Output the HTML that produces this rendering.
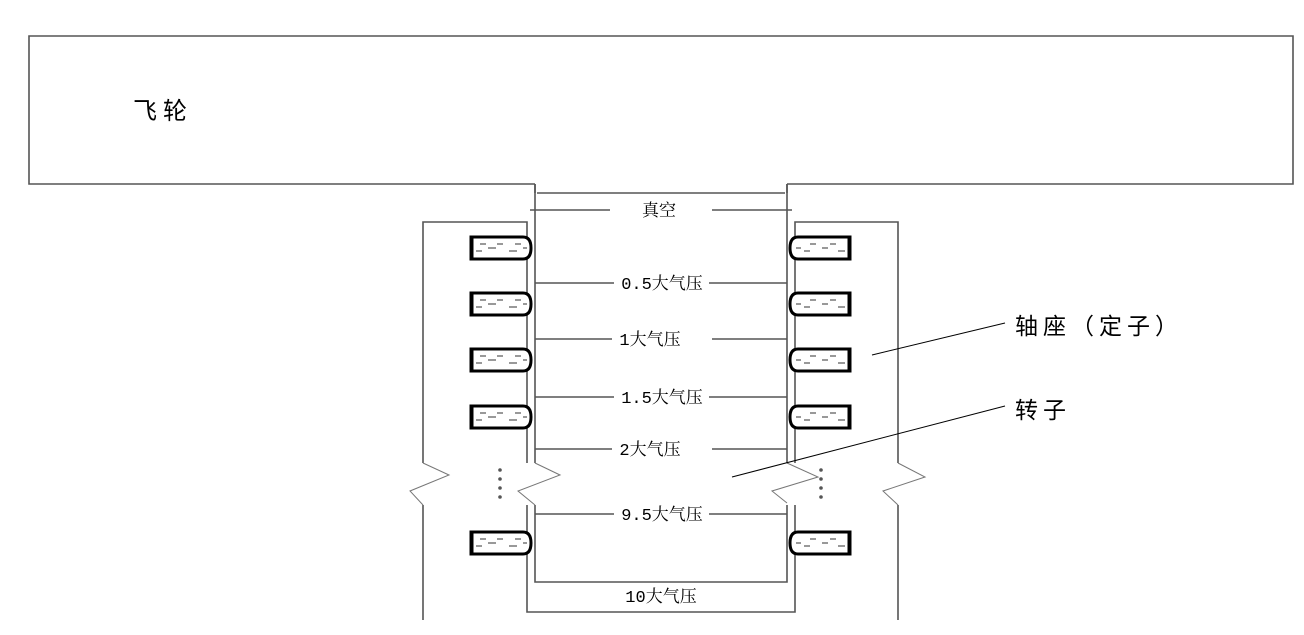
<!DOCTYPE html>
<html><head><meta charset="utf-8"><style>
html,body{margin:0;padding:0;background:#fff;}
svg{display:block}
text{font-family:"Liberation Mono","Noto Serif CJK SC",monospace;fill:#000}
</style></head><body>
<svg width="1304" height="635" viewBox="0 0 1304 635" xmlns="http://www.w3.org/2000/svg">
<defs>
<g id="padL">
<path d="M0,0 H52 Q60,0 60,11 Q60,22 52,22 H0 Z" fill="#fff" stroke="#000" stroke-width="3"/>
<line x1="1" y1="1" x2="1" y2="21" stroke="#000" stroke-width="3"/>
<g stroke="#777" stroke-width="1.5">
<line x1="9" y1="7" x2="15" y2="7"/><line x1="26" y1="7" x2="32" y2="7"/><line x1="44" y1="7" x2="50" y2="7"/>
<line x1="5" y1="14" x2="11" y2="14"/><line x1="17" y1="11" x2="25" y2="11"/><line x1="38" y1="14" x2="46" y2="14"/><line x1="52" y1="11" x2="56" y2="11"/>
</g>
</g>
<g id="padR">
<path d="M60,0 H8 Q0,0 0,11 Q0,22 8,22 H60 Z" fill="#fff" stroke="#000" stroke-width="3"/>
<line x1="59" y1="1" x2="59" y2="21" stroke="#000" stroke-width="3"/>
<g stroke="#777" stroke-width="1.5">
<line x1="6" y1="11" x2="11" y2="11"/><line x1="20" y1="7" x2="26" y2="7"/><line x1="40" y1="7" x2="46" y2="7"/>
<line x1="14" y1="14" x2="20" y2="14"/><line x1="32" y1="11" x2="38" y2="11"/><line x1="48" y1="14" x2="55" y2="14"/>
</g>
</g>
</defs>
<g fill="none" stroke="#555" stroke-width="1.6">
<path d="M535,184 H29 V36 H1293 V184 H787"/>
<line x1="535" y1="184" x2="535" y2="193"/><line x1="787" y1="184" x2="787" y2="193"/>
<line x1="537" y1="193" x2="785" y2="193"/>
<path d="M535,184 V463"/><path d="M535,505 V582 H787 V505"/><path d="M787,184 V463"/>
<path d="M423,620 V505 M423,463 V222 H527 V463"/>
<path d="M527,505 V612 H795 V505"/>
<path d="M898,620 V505 M898,463 V222 H795 V463"/>
</g>
<g fill="none" stroke="#777" stroke-width="1">
<polyline points="423,463 449,475 410,491 423,505"/>
<polyline points="535,463 560,475 518,491 535,505"/>
<polyline points="787,463 818,477 772,491 787,503"/>
<polyline points="898,463 925,477 883,491 898,505"/>
</g>
<g fill="#555">
<circle cx="500" cy="470" r="1.8"/><circle cx="500" cy="479" r="1.8"/><circle cx="500" cy="488" r="1.8"/><circle cx="500" cy="497" r="1.8"/>
<circle cx="821" cy="470" r="1.8"/><circle cx="821" cy="479" r="1.8"/><circle cx="821" cy="488" r="1.8"/><circle cx="821" cy="497" r="1.8"/>
</g>
<use href="#padL" x="471" y="237"/><use href="#padL" x="471" y="293"/><use href="#padL" x="471" y="349"/><use href="#padL" x="471" y="406"/><use href="#padL" x="471" y="532"/>
<use href="#padR" x="790" y="237"/><use href="#padR" x="790" y="293"/><use href="#padR" x="790" y="349"/><use href="#padR" x="790" y="406"/><use href="#padR" x="790" y="532"/>
<g stroke="#555" stroke-width="1.4">
<line x1="530" y1="210" x2="610" y2="210"/><line x1="712" y1="210" x2="792" y2="210"/>
<line x1="535" y1="283" x2="614" y2="283"/><line x1="709" y1="283" x2="787" y2="283"/>
<line x1="535" y1="339" x2="612" y2="339"/><line x1="712" y1="339" x2="787" y2="339"/>
<line x1="535" y1="397" x2="614" y2="397"/><line x1="709" y1="397" x2="787" y2="397"/>
<line x1="535" y1="449" x2="612" y2="449"/><line x1="712" y1="449" x2="787" y2="449"/>
<line x1="535" y1="514" x2="614" y2="514"/><line x1="709" y1="514" x2="787" y2="514"/>
</g>
<g stroke="#000" stroke-width="1">
<line x1="872" y1="355" x2="1005" y2="323"/>
<line x1="732" y1="477" x2="1005" y2="406"/>
</g>
<g font-size="17" text-anchor="middle">
<text x="659" y="216">真空</text>
<text x="662" y="289">0.5大气压</text>
<text x="650" y="345">1大气压</text>
<text x="662" y="403">1.5大气压</text>
<text x="650" y="455">2大气压</text>
<text x="662" y="520">9.5大气压</text>
<text x="661" y="602">10大气压</text>
</g>
<text x="133" y="119" font-size="24" letter-spacing="6" style="font-family:'Liberation Sans','Noto Sans CJK SC',sans-serif">飞轮</text>
<text x="1015" y="334" font-size="23" letter-spacing="5" style="font-family:'Liberation Sans','Noto Sans CJK SC',sans-serif">轴座（定子）</text>
<text x="1015" y="418" font-size="23" letter-spacing="5" style="font-family:'Liberation Sans','Noto Sans CJK SC',sans-serif">转子</text>
</svg>
</body></html>
